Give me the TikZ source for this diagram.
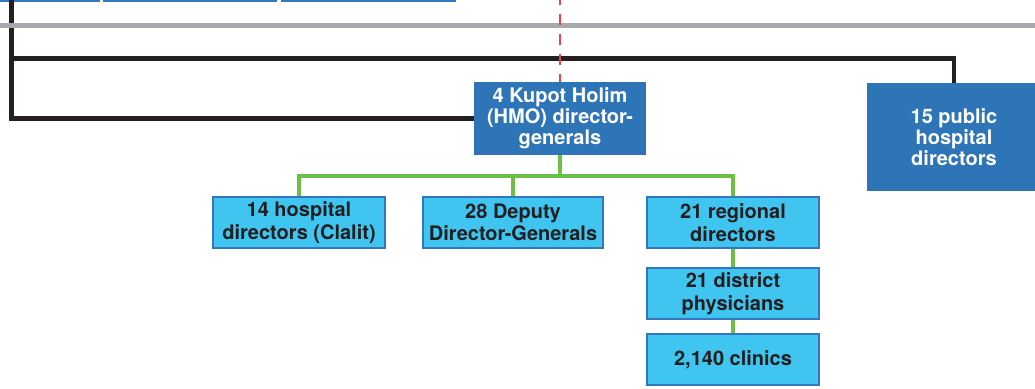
\documentclass[tikz,border=0pt]{standalone}
\usepackage{fontspec}
\setmainfont{TeX Gyre Heros}
\definecolor{hmoblue}{HTML}{2E75B8}
\definecolor{skyfill}{HTML}{40C5F1}
\definecolor{boxedge}{HTML}{3378BE}
\definecolor{linkgreen}{HTML}{6CBF45}
\definecolor{rulegray}{HTML}{A7A9AC}
\definecolor{inkblack}{HTML}{231F20}
\definecolor{dashred}{HTML}{E8424A}
\tikzset{
  darkbox/.style={fill=hmoblue, text=white, inner sep=0pt, align=center,
    font=\fontsize{20}{21}\selectfont\bfseries},
  skybox/.style={fill=skyfill, draw=boxedge, line width=1.6pt, text=inkblack,
    inner sep=0pt, align=center, minimum height=51pt,
    font=\fontsize{20}{22.5}\selectfont\bfseries},
  stubbox/.style={draw=boxedge, line width=1.7pt, fill=white},
  blackrule/.style={draw=inkblack, line width=4.5pt},
  grayrule/.style={draw=rulegray, line width=4.5pt},
  reddash/.style={draw=dashred, line width=2.8pt, dash pattern=on 11pt off 9pt, dash phase=6pt},
  greenlink/.style={draw=linkgreen, line width=4pt},
}
\begin{document}
\begin{tikzpicture}[x=1pt, y=-1pt]
  \useasboundingbox (0,0) rectangle (1035,388);
  \clip (0,0) rectangle (1035,388);

  % boxes of the row above, only their lower edges show
  \draw[stubbox] (-5,-40) rectangle (99,0.8);
  \draw[stubbox] (104,-40) rectangle (276,0.8);
  \draw[stubbox] (282,-40) rectangle (455,0.8);

  % organisation boxes
  \node[darkbox, minimum width=172pt, minimum height=73pt] (hmo) at (560,118.5)
    {4 Kupot Holim\\(HMO) director-\\generals};
  \node[darkbox, minimum width=174pt, minimum height=108pt] (pub) at (954,137)
    {15 public\\hospital\\directors};

  \node[skybox, minimum width=172pt] (hosp) at (299,222.5) {14 hospital\\directors (Clalit)};
  \node[skybox, minimum width=180pt] (deputy) at (513,222.5) {28 Deputy\\Director-Generals};
  \node[skybox, minimum width=172pt] (region) at (733,222.5) {21 regional\\directors};
  \node[skybox, minimum width=172pt] (district) at (733,293.5) {21 district\\physicians};
  \node[skybox, minimum width=172pt] (clinics) at (733,359.5) {2,140 clinics};

  % reference points for the rules
  \coordinate (spine) at (11.5,-5);
  \coordinate (tap) at (11.5,58.5);
  \coordinate (grayL) at (-5,25.5);
  \coordinate (grayR) at (1040,25.5);
  \coordinate (redtop) at (560,0);
  \coordinate (bus) at (560,176);

  % black reporting lines
  \draw[blackrule] (spine) |- (hmo.west);
  \draw[blackrule] (tap) -| (pub.north);

  % gray separator
  \draw[grayrule] (grayL) -- (grayR);

  % red dashed link
  \draw[reddash] (redtop) -- (hmo.north);

  % green hierarchy
  \draw[greenlink] (hmo.south) -- (bus);
  \draw[greenlink] (hosp.north) |- (bus) -| (region.north);
  \draw[greenlink] (deputy.north) -- (deputy.north |- bus);
  \draw[greenlink] (region.south) -- (district.north);
  \draw[greenlink] (district.south) -- (clinics.north);
\end{tikzpicture}
\end{document}
